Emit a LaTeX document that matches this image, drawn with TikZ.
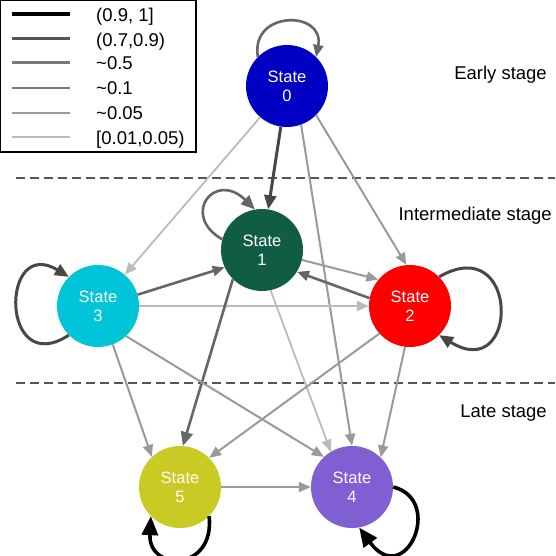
\documentclass[tikz,border=0pt]{standalone}
\usepackage{fontspec}
\setmainfont{Liberation Sans}
\usetikzlibrary{arrows.meta}
\definecolor{c0}{HTML}{0000C4}
\definecolor{c1}{HTML}{115C45}
\definecolor{c2}{HTML}{FF0000}
\definecolor{c3}{HTML}{00C5D9}
\definecolor{c4}{HTML}{7F5FD1}
\definecolor{c5}{HTML}{CACA24}
\definecolor{g4}{HTML}{474747}
\definecolor{g5}{HTML}{555555}
\definecolor{g6}{HTML}{666666}
\definecolor{g7}{HTML}{7A7A7A}
\definecolor{g9}{HTML}{9A9A9A}
\definecolor{gb}{HTML}{BBBBBB}
\begin{document}
\begin{tikzpicture}[x=1pt,y=-1pt,
 state/.style={circle,minimum size=82pt,inner sep=0pt,text=white,font=\fontsize{16.5}{19}\selectfont,align=center},
 pA/.style={line width=3.6pt,black},
 pB/.style={line width=3pt,color=g4},
 pC/.style={line width=2.6pt,color=g6},
 pD/.style={line width=2.2pt,color=g7},
 pE/.style={line width=2pt,color=g9},
 pF/.style={line width=1.8pt,color=gb},
 tipS/.style={-{Triangle[length=12pt,width=10pt]}},
 tipM/.style={-{Triangle[length=14pt,width=12pt]}},
 tipL/.style={-{Triangle[length=19pt,width=16pt]}},
 stagelbl/.style={font=\fontsize{18.5}{22}\selectfont,anchor=base east,inner sep=0pt},
 leglbl/.style={font=\fontsize{18.5}{22}\selectfont,anchor=base west,inner sep=0pt},
 stageline/.style={dash pattern=on 9pt off 5pt,line width=2pt,color=g5}]
\useasboundingbox[fill=white] (0,0) rectangle (555,556);

% legend
\draw[line width=1.3pt] (0.65,0.65) rectangle (196,152);
\draw[pA] (12,14) -- (70,14);
\draw[line width=3pt,color=g5] (12,39) -- (70,39);
\draw[line width=3pt,color=g7] (12,63) -- (70,63);
\draw[line width=2.3pt,color=g7] (12,88) -- (70,88);
\draw[line width=2pt,color=g9] (12,113) -- (70,113);
\draw[line width=2pt,color=gb] (12,137) -- (70,137);
\node[leglbl] (l1) at (96,21.5) {(0.9, 1]};
\node[leglbl] (l2) at (96,46.5) {(0.7,0.9)};
\node[leglbl] (l3) at (96,70) {\textasciitilde0.5};
\node[leglbl] (l4) at (96,95) {\textasciitilde0.1};
\node[leglbl] (l5) at (96,120) {\textasciitilde0.05};
\node[leglbl] (l6) at (96,144.5) {[0.01,0.05)};

% stage separators
\draw[stageline] (16,178) -- (555,178);
\draw[stageline] (16,383) -- (555,383);
\node[stagelbl] (e) at (547,80) {Early stage};
\node[stagelbl] (i) at (552,220) {Intermediate stage};
\node[stagelbl] (l) at (547,417) {Late stage};

% states
\node[state,fill=c0] (s0) at (287,86) {State\\0};
\node[state,fill=c1] (s1) at (262,250) {State\\1};
\node[state,fill=c3] (s3) at (98,306) {State\\3};
\node[state,fill=c2] (s2) at (410,306) {State\\2};
\node[state,fill=c5] (s5) at (180,487) {State\\5};
\node[state,fill=c4] (s4) at (352,487) {State\\4};

% transitions
\draw[pB,tipM] (s0) -- (s1);
\draw[pF,tipS] (s0) -- (s3);
\draw[pE,tipS] (s0.-45) -- (s2.95);
\draw[pE,tipS] (s0.-70) -- (s4.90);
\draw[pC,tipS] (s3.16) -- (s1.205);
\draw[pF,tipS] (s3.0) -- (s2.180);
\draw[pE,tipS] (s1.-14) -- (s2.140);
\draw[pC,tipS] (s2.169) -- (s1.-32);
\draw[pC,tipM] (s1.225) -- (s5.86);
\draw[pF,tipS] (s1.-78) -- (s4.121);
\draw[pE,tipS] (s3.-69) -- (s5.133);
\draw[pE,tipS] (s3.-47) -- (s4.133);
\draw[pE,tipS] (s2.222) -- (s5.45);
\draw[pE,tipS] (s2.-97) -- (s4.46);
\draw[pE,tipS] (s5) -- (s4);

% self loops
\draw[pC,tipS] (s0.135) .. controls (250,10) and (325,10) .. (s0.45);
\draw[pC,tipM] (s1.165) .. controls (180,215) and (215,170) .. (s1.100);
\draw[pB,tipM] (s3.225) .. controls (0,380) and (0,235) .. (s3.135);
\draw[pB,tipM] (s2.45) .. controls (520,230) and (520,385) .. (s2.-45);
\draw[pA,tipL] (s5.-45) .. controls (215,572) and (148,572) .. (s5.-135);
\draw[pA,tipL] (s4.0) .. controls (445,500) and (405,590) .. (s4.-80);
\end{tikzpicture}
\end{document}
